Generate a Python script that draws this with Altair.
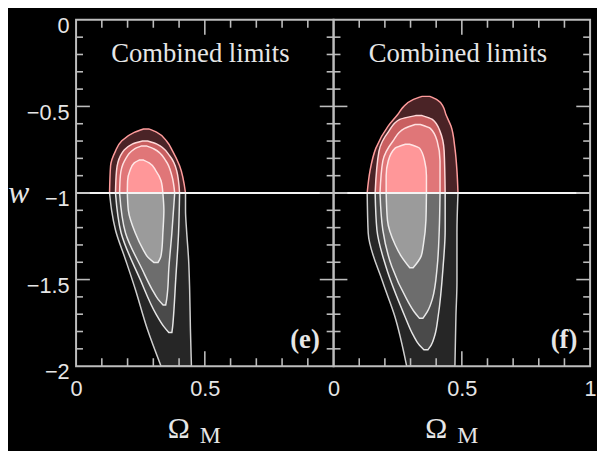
import altair as alt
import pandas as pd

# ---------------- data ----------------
# Panel (e): nested confidence contours, each given as rows of w with left/right Omega_M edge
E1_W = [-0.630, -0.650, -0.701, -0.758, -0.843, -1.0, -1.100, -1.214, -1.385, -1.556, -1.783, -2.0]
E1_L = [0.262, 0.226, 0.176, 0.153, 0.134, 0.130, 0.138, 0.153, 0.192, 0.230, 0.276, 0.330]
E1_R = [0.282, 0.314, 0.352, 0.375, 0.402, 0.425, 0.425, 0.429, 0.437, 0.441, 0.444, 0.448]

E2_W = [-0.700, -0.718, -0.786, -0.872, -1.0, -1.231, -1.499, -1.698, -1.772, -1.806]
E2_L = [0.258, 0.218, 0.172, 0.157, 0.153, 0.175, 0.249, 0.310, 0.341, 0.360]
E2_R = [0.278, 0.314, 0.364, 0.391, 0.402, 0.398, 0.387, 0.379, 0.375, 0.372]

E3_W = [-0.728, -0.746, -0.815, -0.900, -1.0, -1.231, -1.442, -1.556, -1.613, -1.647]
E3_L = [0.255, 0.226, 0.188, 0.172, 0.169, 0.192, 0.257, 0.295, 0.318, 0.338]
E3_R = [0.273, 0.303, 0.349, 0.372, 0.383, 0.372, 0.360, 0.356, 0.352, 0.348]

E4_W = [-0.810, -0.826, -0.872, -0.929, -1.0, -1.100, -1.231, -1.328, -1.373, -1.402]
E4_L = [0.245, 0.226, 0.209, 0.200, 0.199, 0.203, 0.230, 0.261, 0.280, 0.303]
E4_R = [0.262, 0.284, 0.310, 0.330, 0.337, 0.341, 0.337, 0.333, 0.328, 0.318]

# Panel (f)
F1_W = [-0.442, -0.462, -0.501, -0.547, -0.615, -0.741, -0.872, -1.0, -1.231, -1.516, -1.709, -2.0]
F1_L = [0.345, 0.308, 0.273, 0.250, 0.212, 0.165, 0.142, 0.131, 0.135, 0.192, 0.238, 0.285]
F1_R = [0.375, 0.404, 0.427, 0.438, 0.458, 0.473, 0.481, 0.485, 0.481, 0.481, 0.477, 0.473]

F2_W = [-0.553, -0.575, -0.644, -0.758, -1.0, -1.214, -1.425, -1.709, -1.820, -1.880, -1.905]
F2_L = [0.320, 0.258, 0.215, 0.177, 0.162, 0.169, 0.204, 0.277, 0.310, 0.335, 0.352]
F2_R = [0.345, 0.385, 0.415, 0.431, 0.435, 0.435, 0.427, 0.408, 0.395, 0.380, 0.368]

F3_W = [-0.604, -0.627, -0.701, -0.815, -1.0, -1.214, -1.425, -1.613, -1.687, -1.724]
F3_L = [0.318, 0.277, 0.231, 0.192, 0.181, 0.192, 0.227, 0.285, 0.315, 0.335]
F3_R = [0.338, 0.377, 0.404, 0.415, 0.415, 0.412, 0.404, 0.385, 0.365, 0.348]

F4_W = [-0.718, -0.741, -0.815, -0.900, -1.0, -1.157, -1.299, -1.366, -1.432]
F4_L = [0.280, 0.240, 0.213, 0.205, 0.205, 0.210, 0.240, 0.264, 0.297]
F4_R = [0.296, 0.335, 0.355, 0.362, 0.362, 0.360, 0.350, 0.341, 0.310]

W_SPLIT = -1.0
Y_LABELS = [0, -0.5, -1, -1.5, -2]
X_LABELS_E = [0, 0.5]
X_LABELS_F = [0, 0.5, 1]
X_MINOR = [0.1, 0.2, 0.3, 0.4, 0.6, 0.7, 0.8, 0.9]
X_MAJOR = [0.5]
Y_MINOR = [-0.1, -0.2, -0.3, -0.4, -0.6, -0.7, -0.8, -0.9,
           -1.1, -1.2, -1.3, -1.4, -1.6, -1.7, -1.8, -1.9]
Y_MAJOR = [-0.5, -1.0, -1.5]

# ---------------- styles ----------------
UPPER_FILL = ["#4a2326", "#c95f60", "#e07678", "#ff9799"]
LOWER_FILL = ["#262626", "#4a4a4a", "#6d6d6d", "#9b9b9b"]
UPPER_STROKE = ["#ff9c9c", "#ffd8d8", "#ffe0e0", "#ffe6e6"]
LOWER_STROKE = ["#cfcfcf", "#e6e6e6", "#e8e8e8", "#ececec"]
FRAME = "#bdbdbd"
TEXT = "#e6e6e6"
H = 351


def contour_df(levels):
    rows = []
    for lev, (ws, ls, rs) in enumerate(levels, start=1):
        for w, l, r in zip(ws, ls, rs):
            rows.append({"level": lev, "w": w, "xl": l, "xr": r})
    return pd.DataFrame(rows)


XS = alt.Scale(domain=[0, 1], nice=False, zero=False)
YS = alt.Scale(domain=[-2, 0], nice=False, zero=False)
ONE = pd.DataFrame({"a": [0]})


def panel(levels, xlabels, show_y, width, tag):
    xaxis = alt.Axis(values=xlabels, format="~g", ticks=False, domain=False, grid=False,
                     labelFont="Liberation Sans", labelFontSize=22, labelColor=TEXT,
                     labelPadding=13, labelFlush=False, title=None)
    if show_y:
        yaxis = alt.Axis(values=Y_LABELS, format="~g", ticks=False, domain=False, grid=False,
                         labelFont="Liberation Sans", labelFontSize=22, labelColor=TEXT,
                         labelPadding=7, labelOffset=6, labelFlush=False, title=None)
    else:
        yaxis = None

    def X(f):
        return alt.X(f"{f}:Q", scale=XS, axis=xaxis)

    def Y(f):
        return alt.Y(f"{f}:Q", scale=YS, axis=yaxis)

    df = contour_df(levels)
    layers = []
    for i in range(4):
        base = alt.Chart(df).transform_filter(alt.datum.level == i + 1)
        up = base.transform_filter(alt.datum.w >= W_SPLIT).mark_area(
            orient="horizontal", interpolate="monotone", fill=UPPER_FILL[i],
            stroke=UPPER_STROKE[i], strokeWidth=1.5, opacity=1
        ).encode(y=Y("w"), x=X("xl"), x2=alt.X2("xr:Q"))
        lo = base.transform_filter(alt.datum.w <= W_SPLIT).mark_area(
            orient="horizontal", interpolate="monotone", fill=LOWER_FILL[i],
            stroke=LOWER_STROKE[i], strokeWidth=1.5, opacity=1
        ).encode(y=Y("w"), x=X("xl"), x2=alt.X2("xr:Q"))
        layers += [up, lo]

    split = alt.Chart(pd.DataFrame({"w": [W_SPLIT]})).mark_rule(
        color="#f4f4f4", strokeWidth=2).encode(y=Y("w"))
    layers.append(split)

    xmin = pd.DataFrame({"v": X_MINOR})
    xmaj = pd.DataFrame({"v": X_MAJOR})
    ymin = pd.DataFrame({"v": Y_MINOR})
    ymaj = pd.DataFrame({"v": Y_MAJOR})
    tick = dict(color=FRAME, strokeWidth=1.6)
    for d, ln in ((xmin, 8), (xmaj, 15)):
        layers.append(alt.Chart(d).mark_rule(**tick).encode(x=X("v"), y=alt.value(0), y2=alt.value(ln)))
        layers.append(alt.Chart(d).mark_rule(**tick).encode(x=X("v"), y=alt.value(H), y2=alt.value(H - ln)))
    for d, ln in ((ymin, 7), (ymaj, 14)):
        layers.append(alt.Chart(d).mark_rule(**tick).encode(y=Y("v"), x=alt.value(0), x2=alt.value(ln)))
        layers.append(alt.Chart(d).mark_rule(**tick).encode(y=Y("v"), x=alt.value(width), x2=alt.value(width - ln)))

    layers.append(alt.Chart(ONE).mark_rect(fill="transparent", stroke=FRAME, strokeWidth=2).encode(
        x=alt.value(0), x2=alt.value(width), y=alt.value(0), y2=alt.value(H)))

    layers.append(alt.Chart(ONE).mark_text(text="Combined limits", font="Liberation Serif", fontSize=27,
                                           color=TEXT, baseline="middle").encode(
        x=alt.value(126), y=alt.value(35)))
    layers.append(alt.Chart(ONE).mark_text(text=tag, font="Liberation Serif", fontSize=27, fontWeight="bold",
                                           color=TEXT, align="right", baseline="middle").encode(
        x=alt.value(247), y=alt.value(325)))
    layers.append(alt.Chart(ONE).mark_text(text="Ω", font="Liberation Serif", fontSize=30,
                                           color=TEXT, baseline="middle").encode(
        x=alt.value(104), y=alt.value(415)))
    layers.append(alt.Chart(ONE).mark_text(text="M", font="Liberation Serif", fontSize=24,
                                           color=TEXT, baseline="middle").encode(
        x=alt.value(136), y=alt.value(422)))
    if show_y:
        layers.append(alt.Chart(ONE).mark_text(text="w", font="Liberation Serif", fontSize=32,
                                               fontStyle="italic", color=TEXT, baseline="middle").encode(
            x=alt.value(-58), y=alt.value(176)))

    return alt.layer(*layers).properties(width=width, height=H)


left = panel([(E1_W, E1_L, E1_R), (E2_W, E2_L, E2_R), (E3_W, E3_L, E3_R), (E4_W, E4_L, E4_R)],
             X_LABELS_E, True, 261, "(e)")
right = panel([(F1_W, F1_L, F1_R), (F2_W, F2_L, F2_R), (F3_W, F3_L, F3_R), (F4_W, F4_L, F4_R)],
              X_LABELS_F, False, 260, "(f)")

chart = alt.hconcat(left, right, spacing=0, bounds="flush").properties(
    padding={"left": 0, "top": 4, "right": 0, "bottom": 0},
    background="black",
).configure_view(stroke=None)

chart.save("out.html", embed_options={"renderer": "svg", "actions": False})
